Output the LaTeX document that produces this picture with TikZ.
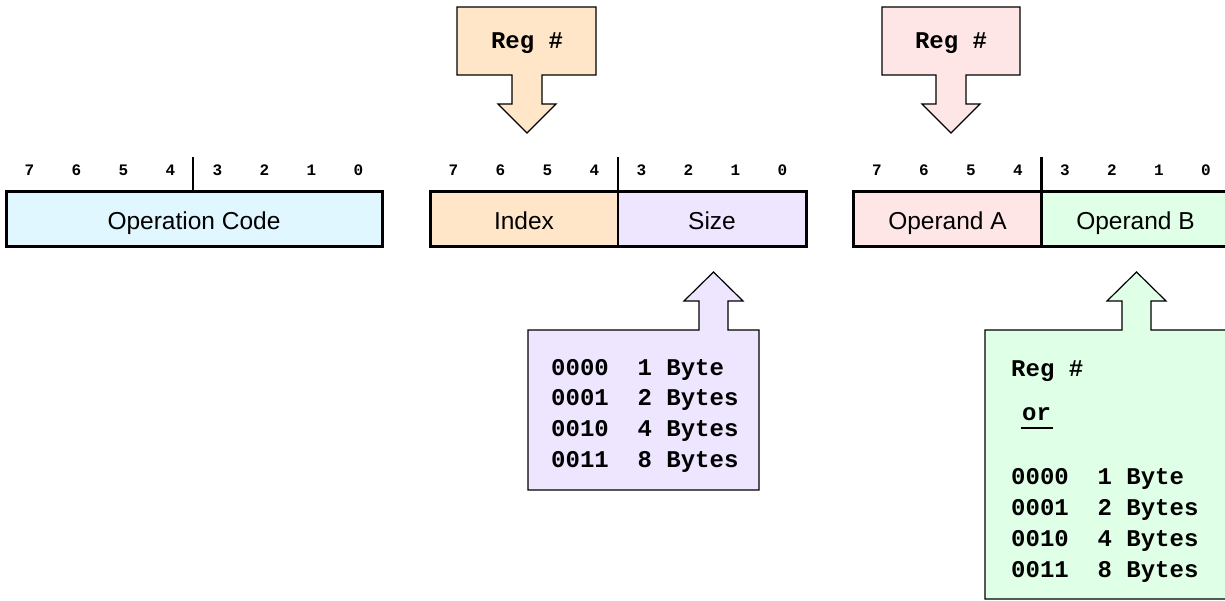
\documentclass[tikz,border=0pt]{standalone}
\usepackage{fontspec}
\setmainfont{Liberation Sans}
\newfontfamily\mono{Liberation Mono}
\definecolor{cyanf}{RGB}{224,247,255}
\definecolor{orangef}{RGB}{255,230,200}
\definecolor{purplef}{RGB}{238,230,255}
\definecolor{pinkf}{RGB}{255,230,230}
\definecolor{greenf}{RGB}{223,255,230}
\tikzset{
  field/.style={draw, line width=2.2pt, minimum height=55pt, inner sep=0pt, outer sep=0pt,
    text height=20pt, text depth=0pt, font=\fontsize{24.5}{28}\selectfont},
  frame/.style={draw, line width=3pt},
  divider/.style={line width=2.6pt},
  bitnum/.style={anchor=base, inner sep=0pt, font=\mono\bfseries\fontsize{16}{18}\selectfont},
  callout/.style={draw, line width=1.2pt, line join=miter},
  code/.style={anchor=base west, inner sep=0pt, font=\mono\bfseries\fontsize{24}{29}\selectfont},
}
\begin{document}
\begin{tikzpicture}[x=1pt, y=-1pt]
\useasboundingbox (0,0) rectangle (1225,601);
\clip (0,0) rectangle (1225,601);

% ---- callouts (drawn first) ----
\draw[callout, fill=orangef] (457,7) -- (596,7) -- (596,75) -- (542,75) -- (542,104) -- (556,104)
  -- (527,133) -- (498,104) -- (512,104) -- (512,75) -- (457,75) -- cycle;
\node[code, anchor=base] (regA) at (527,48.5) {Reg \#};

\draw[callout, fill=pinkf] (882,7) -- (1020,7) -- (1020,75) -- (966,75) -- (966,104) -- (980,104)
  -- (951,133) -- (922,104) -- (936,104) -- (936,75) -- (882,75) -- cycle;
\node[code, anchor=base] (regB) at (951,48.5) {Reg \#};

\draw[callout, fill=purplef] (528,330) -- (699,330) -- (699,301) -- (684,301) -- (713.5,272)
  -- (743,301) -- (728,301) -- (728,330) -- (759,330) -- (759,490) -- (528,490) -- cycle;
\node[code] (s1) at (551,375.5) {0000~~1 Byte};
\node[code] (s2) at (551,405.5) {0001~~2 Bytes};
\node[code] (s3) at (551,436.5) {0010~~4 Bytes};
\node[code] (s4) at (551,467.5) {0011~~8 Bytes};

\draw[callout, fill=greenf] (985,330) -- (1122,330) -- (1122,301) -- (1107,301) -- (1136.5,272)
  -- (1166,301) -- (1151,301) -- (1151,330) -- (1240,330) -- (1240,599) -- (985,599) -- cycle;
\node[code] (g0) at (1011,376) {Reg \#};
\node[code] (gor) at (1022,420.5) {or};
\draw[line width=2.4pt] (1021,428) -- (1053,428);
\node[code] (g1) at (1011,484.5) {0000~~1 Byte};
\node[code] (g2) at (1011,515.5) {0001~~2 Bytes};
\node[code] (g3) at (1011,546.5) {0010~~4 Bytes};
\node[code] (g4) at (1011,577.5) {0011~~8 Bytes};

% ---- register 1 ----
\node[field, fill=cyanf, minimum width=376pt] (opc) at (194,219.5) {Operation Code};
\draw[frame] (opc.north west) rectangle (opc.south east);
\draw[divider] (193,157) -- (193,192);

% ---- register 2 ----
\node[field, fill=orangef, minimum width=188pt] (idx) at (524,219.5) {Index};
\node[field, fill=purplef, minimum width=188pt] (size) at (712,219.5) {Size};
\draw[frame] (idx.north west) rectangle (size.south east);
\draw[divider] (618,157) -- (618,192);

% ---- register 3 ----
\node[field, fill=pinkf, minimum width=188pt] (opa) at (947.5,219.5) {Operand A};
\node[field, fill=greenf, minimum width=188pt] (opb) at (1135.5,219.5) {Operand B};
\draw[frame] (opa.north west) rectangle (opb.south east);
\draw[divider] (1041.5,157) -- (1041.5,192);

% ---- bit numbers ----
\foreach \x/\r in {6/a, 430/b, 853.5/c}{
  \foreach \i [evaluate=\i as \b using int(7-\i)] in {0,...,7}{
    \node[bitnum] (bit\r\i) at ({\x+23.5+47*\i},176) {\b};
  }
}
\end{tikzpicture}
\end{document}
